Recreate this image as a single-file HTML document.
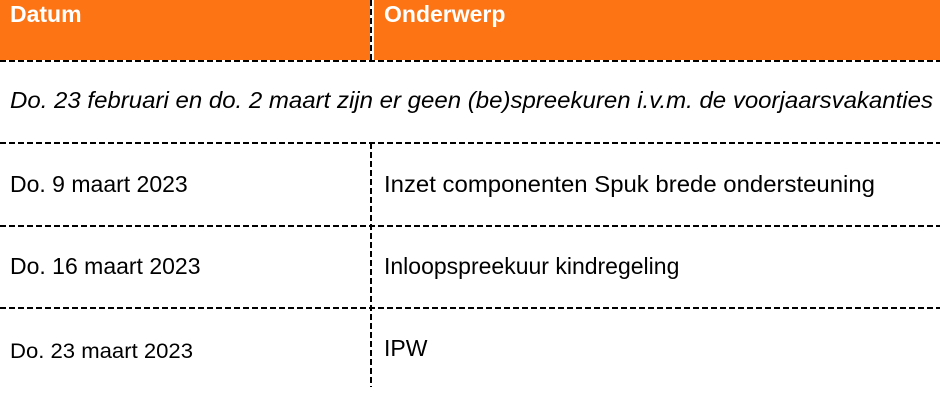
<!DOCTYPE html>
<html><head><meta charset="utf-8"><style>
html,body{margin:0;padding:0;background:#fff;width:940px;height:418px;overflow:hidden}
</style></head><body>
<svg width="940" height="418" xmlns="http://www.w3.org/2000/svg" font-family="Liberation Sans, Arial, sans-serif">
<rect x="0" y="0" width="370" height="60" fill="#fd7415"/>
<rect x="374" y="0" width="566" height="60" fill="#fd7415"/>
<g stroke="#000" stroke-width="2" stroke-dasharray="6,3" fill="none">
<line x1="0" y1="61" x2="940" y2="61"/>
<line x1="0" y1="143" x2="940" y2="143"/>
<line x1="0" y1="226" x2="940" y2="226"/>
<line x1="0" y1="308" x2="940" y2="308"/>
<line x1="371" y1="0" x2="371" y2="60"/>
<line x1="371" y1="143" x2="371" y2="387"/>
</g>
<text x="10" y="22" font-size="23" font-weight="bold" fill="#fff">Datum</text>
<text x="384" y="22" font-size="23" font-weight="bold" fill="#fff">Onderwerp</text>
<text x="10" y="108" font-size="23" font-style="italic" fill="#000" textLength="923" lengthAdjust="spacingAndGlyphs">Do. 23 februari en do. 2 maart zijn er geen (be)spreekuren i.v.m. de voorjaarsvakanties</text>
<text x="10" y="192" font-size="23" fill="#000">Do. 9 maart 2023</text>
<text x="384" y="192" font-size="23" fill="#000" textLength="491" lengthAdjust="spacingAndGlyphs">Inzet componenten Spuk brede ondersteuning</text>
<text x="10" y="274" font-size="23" fill="#000">Do. 16 maart 2023</text>
<text x="384" y="274" font-size="23" fill="#000">Inloopspreekuur kindregeling</text>
<text x="10" y="358" font-size="21" fill="#000" textLength="183" lengthAdjust="spacingAndGlyphs">Do. 23 maart 2023</text>
<text x="384" y="356" font-size="23" fill="#000">IPW</text>
</svg>
</body></html>
